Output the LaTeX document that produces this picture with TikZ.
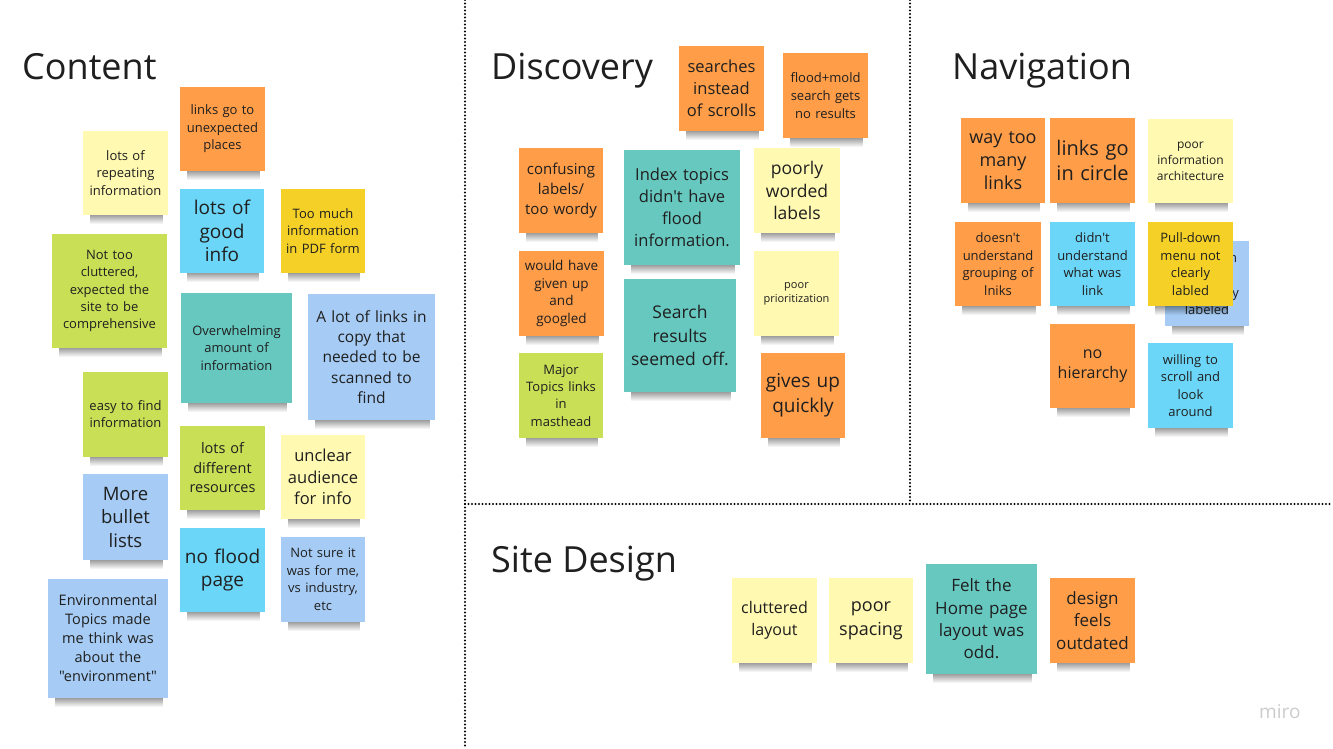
\documentclass[tikz,border=0pt]{standalone}
\usepackage{fontspec}
\setmainfont{Open Sans}[Ligatures=TeXOff]
\usetikzlibrary{fadings}
\definecolor{cOrange}{HTML}{FF9D48}
\definecolor{cLYellow}{HTML}{FFF9B1}
\definecolor{cCyan}{HTML}{6CD6F8}
\definecolor{cGold}{HTML}{F5D128}
\definecolor{cLime}{HTML}{C9DF56}
\definecolor{cTeal}{HTML}{67C8C0}
\definecolor{cBlue}{HTML}{A6CCF5}
\definecolor{cText}{HTML}{1F1F1F}
\tikzset{
  sticky/.style={inner sep=0pt, outer sep=0pt, align=center, text=cText},
  title/.style={anchor=base west, inner sep=0pt, text=cText, font=\fontsize{36}{44}\selectfont},
  divider/.style={line width=2.3pt, line cap=round, dash pattern=on 0pt off 3.5pt, black},
}
\newcommand\sticky[9]{%
  \pgfmathsetmacro\nw{#4-#2}\pgfmathsetmacro\nh{#5-#3}%
  \pgfmathsetmacro\ncx{(#2+#4)/2}\pgfmathsetmacro\ncy{(#3+#5)/2}%
  \pgfmathsetmacro\tw{\nw-8}%
  \fill[black, opacity=0.55, path fading=south] (#2+7,#5-4) rectangle (#4-5,#5+9);
  \node[sticky, fill=#6, minimum width=\nw pt, minimum height=\nh pt, text width=\tw pt,
        font=\fontsize{#7}{#8}\selectfont] (#1) at (\ncx,\ncy) {#9};
}
\begin{document}
\begin{tikzpicture}[x=1pt, y=-1pt]
\useasboundingbox[fill=white] (0,0) rectangle (1333,749);
% dividers
\coordinate (vtop) at (465,0); \coordinate (vbot) at (465,749);
\coordinate (v2top) at (910,0); \coordinate (v2bot) at (910,504);
\coordinate (hl) at (465,504); \coordinate (hr) at (1333,504);
\draw[divider] (vtop) -- (vbot);
\draw[divider] (v2top) -- (v2bot);
\draw[divider] (hl) -- (hr);
% titles
\node[title] (tContent) at (22,80) {Content};
\node[title] (tDiscovery) at (491,80) {Discovery};
\node[title] (tNavigation) at (952,80) {Navigation};
\node[title] (tSite) at (491,572) {Site Design};
% Content
\sticky{c1}{180}{87}{265}{171}{cOrange}{13}{17.5}{links go to\\unexpected\\places}
\sticky{c2}{83}{131}{168}{215}{cLYellow}{13}{17.5}{lots of\\repeating\\information}
\sticky{c3}{180}{189}{264}{273}{cCyan}{19}{23.3}{lots of\\good\\info}
\sticky{c4}{281}{189}{365}{273}{cGold}{13}{17.2}{Too much\\information\\in PDF form}
\sticky{c5}{52}{234}{167}{348}{cLime}{13}{17.2}{Not too\\cluttered,\\expected the\\site to be\\comprehensive}
\sticky{c6}{181}{293}{292}{403}{cTeal}{13}{17.5}{Overwhelming\\amount of\\information}
\sticky{c7}{308}{294}{435}{420}{cBlue}{15.5}{20.2}{A lot of links in\\copy that\\needed to be\\scanned to\\find}
\sticky{c8}{83}{372}{168}{457}{cLime}{13}{17}{easy to find\\information}
\sticky{c9}{180}{426}{265}{510}{cLime}{14.5}{19.5}{lots of\\different\\resources}
\sticky{c10}{281}{435}{365}{519}{cLYellow}{16.5}{21.5}{unclear\\audience\\for info}
\sticky{c11}{83}{474}{168}{560}{cBlue}{18.5}{23.5}{More\\bullet\\lists}
\sticky{c12}{180}{528}{265}{612}{cCyan}{19}{23.7}{no flood\\page}
\sticky{c13}{281}{537}{365}{622}{cBlue}{13}{17.5}{Not sure it\\was for me,\\vs industry,\\etc}
\sticky{c14}{48}{579}{168}{698}{cBlue}{14.5}{19}{Environmental\\Topics made\\me think was\\about the\\"environment"}
% Discovery
\sticky{d1}{679}{46}{764}{131}{cOrange}{16.5}{21.8}{searches\\instead\\of scrolls}
\sticky{d2}{783}{53}{868}{138}{cOrange}{13}{17.8}{flood+mold\\search gets\\no results}
\sticky{d3}{519}{148}{603}{233}{cOrange}{15}{20.3}{confusing\\labels/\\too wordy}
\sticky{d4}{624}{150}{740}{265}{cTeal}{16.5}{21.8}{Index topics\\didn't have\\flood\\information.}
\sticky{d5}{754}{148}{840}{233}{cLYellow}{17.5}{22.7}{poorly\\worded\\labels}
\sticky{d6}{519}{251}{604}{336}{cOrange}{13.5}{17.7}{would have\\given up\\and\\googled}
\sticky{d7}{624}{279}{736}{392}{cTeal}{17.5}{23.3}{Search\\results\\seemed off.}
\sticky{d8}{754}{251}{839}{336}{cLYellow}{11}{14.3}{poor\\prioritization}
\sticky{d9}{519}{353}{603}{438}{cLime}{13}{17.2}{Major\\Topics links\\in\\masthead}
\sticky{d10}{761}{353}{845}{438}{cOrange}{19}{25}{gives up\\quickly}
% Navigation
\sticky{n1}{961}{118}{1045}{203}{cOrange}{18}{23.3}{way too\\many\\links}
\sticky{n2}{1050}{118}{1135}{203}{cOrange}{20}{25}{links go\\in circle}
\sticky{n3}{1148}{119}{1233}{203}{cLYellow}{12}{15.8}{poor\\information\\architecture}
\sticky{n4}{955}{222}{1041}{306}{cOrange}{13}{17.5}{doesn't\\understand\\grouping of\\lniks}
\sticky{n5}{1050}{222}{1135}{306}{cCyan}{13}{17.5}{didn't\\understand\\what was\\link}
\sticky{n6}{1165}{241}{1249}{326}{cBlue}{13}{17.5}{Pull-down\\menu is\\not clearly\\labeled}
\sticky{n7}{1148}{222}{1233}{306}{cGold}{13}{17.5}{Pull-down\\menu not\\clearly\\labled}
\sticky{n8}{1050}{324}{1135}{408}{cOrange}{16}{20.7}{no\\hierarchy}
\sticky{n9}{1148}{343}{1233}{428}{cCyan}{13}{17.3}{willing to\\scroll and\\look\\around}
% Site Design
\sticky{s1}{732}{578}{817}{663}{cLYellow}{16}{21.7}{cluttered\\layout}
\sticky{s2}{829}{578}{913}{663}{cLYellow}{18}{24}{poor\\spacing}
\sticky{s3}{926}{564}{1037}{674}{cTeal}{17}{22.3}{Felt the\\Home page\\layout was\\odd.}
\sticky{s4}{1050}{578}{1135}{663}{cOrange}{17}{22.3}{design\\feels\\outdated}
% logo
\node[anchor=base west, inner sep=0pt, text=black!20, font=\fontsize{19}{21}\selectfont] (logo) at (1259,718) {miro};
\end{tikzpicture}
\end{document}
